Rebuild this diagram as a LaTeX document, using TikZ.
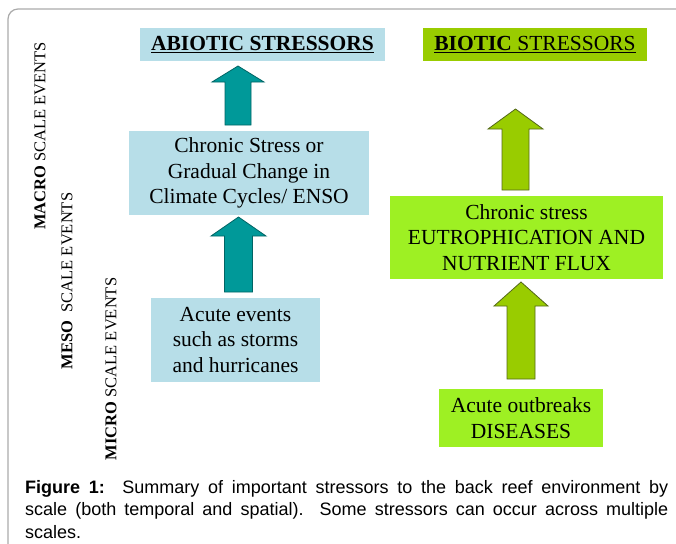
\documentclass[tikz,border=0pt]{standalone}
\usepackage{fontspec}
\setmainfont{Liberation Serif}
\newfontfamily\capfont{Liberation Sans}
\definecolor{boxblue}{RGB}{183,222,232}
\definecolor{arrowteal}{RGB}{0,153,153}
\definecolor{arrowtealdark}{RGB}{0,100,100}
\definecolor{hdrgreen}{RGB}{153,204,0}
\definecolor{boxgreen}{RGB}{158,240,35}
\definecolor{arrowgreen}{RGB}{153,204,0}
\definecolor{arrowgreendark}{RGB}{85,105,25}
\definecolor{framegray}{RGB}{170,170,170}
\newcommand\blockarrow[7]{%
  \path[#1] (#2-#6,#3) -- (#2-#6,#5) -- (#2-#7,#5) -- (#2,#4) -- (#2+#7,#5)
    -- (#2+#6,#5) -- (#2+#6,#3) -- cycle;}
\begin{document}
\begin{tikzpicture}[x=1pt,y=-1pt,
  boxsty/.style={inner sep=0pt, align=center, font=\fontsize{21.5}{25.5}\selectfont, text=black},
  hdrblue/.style={boxsty, fill=boxblue, minimum height=33pt},
  hdrgrn/.style={boxsty, fill=hdrgreen, minimum height=33pt},
  bluebox/.style={boxsty, fill=boxblue},
  greenbox/.style={boxsty, fill=boxgreen},
  sidelabel/.style={rotate=90, inner sep=0pt, font=\fontsize{16.5}{20}\selectfont},
  tealarrow/.style={fill=arrowteal, draw=arrowtealdark, line width=0.8pt},
  greenarrow/.style={fill=arrowgreen, draw=arrowgreendark, line width=0.8pt},
  framesty/.style={draw=framegray, line width=1.2pt, rounded corners=10pt}
]
\useasboundingbox (0,0) rectangle (676,543);
% frame
\draw[framesty] (8,545) -- (8,9) -- (678,9);

% headers
\node[hdrblue, minimum width=245pt] (abio) at (262.5,44.5) {\underline{\textbf{ABIOTIC STRESSORS}}};
\node[hdrgrn, minimum width=224pt] (bio) at (535,44.5) {\underline{\textbf{BIOTIC} STRESSORS}};

% abiotic boxes
\node[bluebox, minimum width=240pt, minimum height=84pt] (achron) at (249,173)
  {Chronic Stress or\\Gradual Change in\\Climate Cycles/ ENSO};
\node[bluebox, minimum width=169pt, minimum height=84pt] (aacute) at (235.5,340)
  {Acute events\\such as storms\\and hurricanes};

% biotic boxes
\node[greenbox, minimum width=273pt, minimum height=83pt] (bchron) at (526.5,237.5)
  {Chronic stress\\EUTROPHICATION AND\\NUTRIENT FLUX};
\node[greenbox, minimum width=164pt, minimum height=58pt] (bacute) at (521,418)
  {Acute outbreaks\\DISEASES};

% block arrows
\blockarrow{tealarrow}{238}{125}{66}{82}{13}{26}
\blockarrow{tealarrow}{238.5}{292}{217}{236}{14}{27.5}
\blockarrow{greenarrow}{515.5}{190}{109}{129}{13.5}{27.5}
\blockarrow{greenarrow}{521}{379}{282}{306}{14}{27}

% scale labels
\node[sidelabel] (macro) at (40,136) {\textbf{MACRO} SCALE EVENTS};
\node[sidelabel] (meso) at (67,281) {\textbf{MESO}\ \ SCALE EVENTS};
\node[sidelabel] (micro) at (111,369) {\textbf{MICRO} SCALE EVENTS};

% caption
\node[anchor=north west, inner sep=0pt, text width=643pt, align=justify,
  font=\capfont\fontsize{18}{22.5}\selectfont] (cap) at (25,480)
  {\textbf{Figure 1:}\ \ Summary of important stressors to the back reef environment by\linebreak
   scale (both temporal and spatial).\ \ Some stressors can occur across multiple\linebreak
   scales.};
\end{tikzpicture}
\end{document}
